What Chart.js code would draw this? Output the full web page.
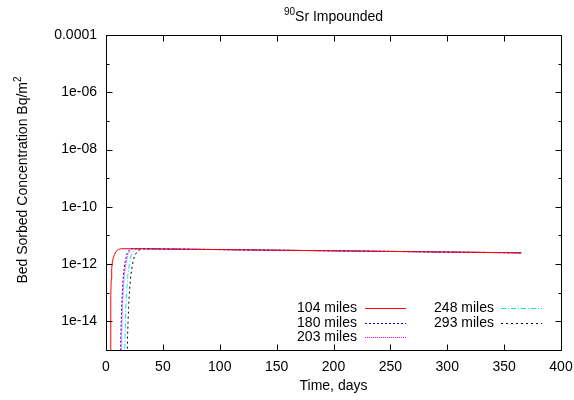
<!DOCTYPE html>
<html>
<head>
<meta charset="utf-8">
<script src="https://cdn.jsdelivr.net/npm/chart.js@4/dist/chart.umd.min.js"></script>
<style>
  html, body { margin: 0; padding: 0; background: #fff; }
  #wrap { width: 574px; height: 400px; }
</style>
</head>
<body>
<div id="wrap"><canvas id="c" width="574" height="400"></canvas></div>
<script>
// Series labels (distance downstream)
const seriesNames = ['104 miles', '180 miles', '203 miles', '248 miles', '293 miles'];

// Arrival of the sorbed front at each station (days, Bq/m^2)
const days104 = [3.9, 4.1, 4.3, 4.6, 5.0, 5.6, 6.5, 7.5, 9.0, 11.0, 13.3];
const conc104 = [1e-16, 5e-15, 8e-14, 3e-13, 7e-13, 1.2e-12, 1.7e-12, 2.2e-12, 2.8e-12, 3.25e-12, 3.45e-12];

const days180 = [12.6, 13.0, 13.8, 14.6, 15.5, 16.7, 18.2, 20.0, 22.5];
const conc180 = [1e-16, 3e-15, 4e-14, 1.6e-13, 5e-13, 1.1e-12, 2.2e-12, 3.0e-12, 3.45e-12];

const days203 = [13.4, 13.8, 14.6, 15.4, 16.3, 17.5, 19.0, 21.0, 23.5];
const conc203 = [1e-16, 3e-15, 4e-14, 1.5e-13, 4.8e-13, 1.05e-12, 2.1e-12, 2.95e-12, 3.45e-12];

const days248 = [16.3, 16.7, 17.5, 18.3, 19.3, 20.6, 22.2, 24.2, 27.0];
const conc248 = [1e-16, 3e-15, 3.5e-14, 1.4e-13, 4.5e-13, 1.0e-12, 2.0e-12, 2.9e-12, 3.44e-12];

const days293 = [18.5, 18.9, 19.8, 20.7, 21.8, 23.2, 25.0, 27.5, 31.0];
const conc293 = [1e-16, 2.5e-15, 3e-14, 1.2e-13, 4e-13, 9.5e-13, 1.9e-12, 2.8e-12, 3.43e-12];

// Shared slow decline after the front has passed
const tailDays = [35, 50, 75, 100, 125, 150, 175, 200, 225, 250, 275, 300, 325, 350, 365];
const tailConc = [3.42e-12, 3.37e-12, 3.29e-12, 3.21e-12, 3.13e-12, 3.05e-12, 2.98e-12, 2.91e-12,
                  2.84e-12, 2.77e-12, 2.70e-12, 2.63e-12, 2.57e-12, 2.51e-12, 2.46e-12];

// Axis ticks
const xTicks = [0, 50, 100, 150, 200, 250, 300, 350, 400];
const yTickValues = [1e-4, 1e-6, 1e-8, 1e-10, 1e-12, 1e-14];
const yTickLabels = ['0.0001', '1e-06', '1e-08', '1e-10', '1e-12', '1e-14'];

const FONT = "'Liberation Sans', Arial, Helvetica, sans-serif";
const FS = 14;

function pts(days, conc) {
  const out = days.map((d, i) => ({ x: d, y: conc[i] }));
  tailDays.forEach((d, i) => out.push({ x: d, y: tailConc[i] }));
  return out;
}

const styles = [
  { color: '#ff0000', dash: [] },
  { color: '#0000ff', dash: [2, 2] },
  { color: '#ff00ff', dash: [1, 1] },
  { color: '#00e5ee', dash: [5, 2, 1, 2] },
  { color: '#000000', dash: [2, 3] }
];
const dataSets = [[days104, conc104], [days180, conc180], [days203, conc203], [days248, conc248], [days293, conc293]];

const datasets = dataSets.map((d, i) => ({
  label: seriesNames[i],
  data: pts(d[0], d[1]),
  borderColor: styles[i].color,
  borderDash: styles[i].dash,
  borderWidth: 1,
  pointRadius: 0,
  tension: 0,
  fill: false
}));

// Box, inward ticks, titles and key
const decor = {
  id: 'decor',
  afterDatasetsDraw(chart) {
    const { ctx, chartArea: a, scales: { x, y } } = chart;
    ctx.save();
    ctx.strokeStyle = '#000';
    ctx.lineWidth = 1;
    const L = Math.round(a.left) + 0.5, R = Math.round(a.right) + 0.5;
    const T = Math.round(a.top) + 0.5, B = Math.round(a.bottom) + 0.5;
    ctx.beginPath();
    ctx.rect(L, T, R - L, B - T);
    xTicks.forEach(v => {
      const px = Math.round(x.getPixelForValue(v)) + 0.5;
      ctx.moveTo(px, B); ctx.lineTo(px, B - 6);
      ctx.moveTo(px, T); ctx.lineTo(px, T + 6);
    });
    for (let e = -15; e <= -4; e++) {
      const py = Math.round(y.getPixelForValue(Math.pow(10, e))) + 0.5;
      const len = (e % 2 === 0) ? 6 : 3;
      ctx.moveTo(L, py); ctx.lineTo(L + len, py);
      ctx.moveTo(R, py); ctx.lineTo(R - len, py);
    }
    ctx.stroke();

    ctx.fillStyle = '#000';
    // Main title with superscript mass number
    const cx = (a.left + a.right) / 2;
    ctx.font = FS + 'px ' + FONT;
    const main = 'Sr Impounded';
    const wMain = ctx.measureText(main).width;
    ctx.font = '10px ' + FONT;
    const wSup = ctx.measureText('90').width;
    const x0 = cx - (wMain + wSup) / 2;
    ctx.textBaseline = 'alphabetic';
    ctx.textAlign = 'left';
    ctx.fillText('90', x0, 15);
    ctx.font = FS + 'px ' + FONT;
    ctx.fillText(main, x0 + wSup, 21);

    // Y axis title
    ctx.save();
    ctx.translate(27, 180);
    ctx.rotate(-Math.PI / 2);
    const yt = 'Bed Sorbed Concentration Bq/m';
    const wy = ctx.measureText(yt).width;
    ctx.font = '10px ' + FONT;
    const w2 = ctx.measureText('2').width;
    ctx.font = FS + 'px ' + FONT;
    const sx = -(wy + w2) / 2;
    ctx.fillText(yt, sx, 0);
    ctx.font = '10px ' + FONT;
    ctx.fillText('2', sx + wy, -6);
    ctx.restore();

    // Key
    ctx.font = FS + 'px ' + FONT;
    ctx.textBaseline = 'middle';
    const rows = [308, 323, 337];
    const cols = [{ textR: 357, s0: 365, s1: 406 }, { textR: 494, s0: 501, s1: 542 }];
    chart.data.datasets.forEach((ds, i) => {
      const col = cols[i < 3 ? 0 : 1];
      const ry = rows[i < 3 ? i : i - 3];
      ctx.textAlign = 'right';
      ctx.fillStyle = '#000';
      ctx.fillText(ds.label, col.textR, ry);
      ctx.beginPath();
      ctx.strokeStyle = ds.borderColor;
      ctx.setLineDash(ds.borderDash);
      ctx.moveTo(col.s0, Math.round(ry) + 0.5);
      ctx.lineTo(col.s1, Math.round(ry) + 0.5);
      ctx.stroke();
      ctx.setLineDash([]);
    });
    ctx.restore();
  }
};

new Chart(document.getElementById('c'), {
  type: 'line',
  data: { datasets },
  options: {
    responsive: false,
    animation: false,
    layout: { padding: { top: 35, right: 0, left: 0, bottom: 0 } },
    plugins: { legend: { display: false }, title: { display: false }, tooltip: { enabled: false } },
    scales: {
      x: {
        type: 'linear',
        min: 0, max: 400,
        afterFit: s => { s.height = 50; s.paddingRight = 13; s.paddingLeft = 0; },
        afterBuildTicks: s => { s.ticks = xTicks.map(v => ({ value: v })); },
        grid: { display: false, drawTicks: false },
        border: { display: false },
        ticks: { color: '#000', font: { family: FONT, size: FS }, padding: 9, maxRotation: 0 },
        title: { display: true, text: 'Time, days', color: '#000', font: { family: FONT, size: FS }, padding: { top: 0, bottom: 5 } }
      },
      y: {
        type: 'logarithmic',
        min: 1e-15, max: 1e-4,
        afterFit: s => { s.width = 106; s.paddingTop = 0; s.paddingBottom = 0; },
        afterBuildTicks: s => { s.ticks = yTickValues.map(v => ({ value: v })); },
        grid: { display: false, drawTicks: false },
        border: { display: false },
        ticks: {
          color: '#000', font: { family: FONT, size: FS }, padding: 9,
          callback: v => { const k = yTickValues.indexOf(v); return k >= 0 ? yTickLabels[k] : ''; }
        }
      }
    }
  },
  plugins: [decor]
});
</script>
</body>
</html>
